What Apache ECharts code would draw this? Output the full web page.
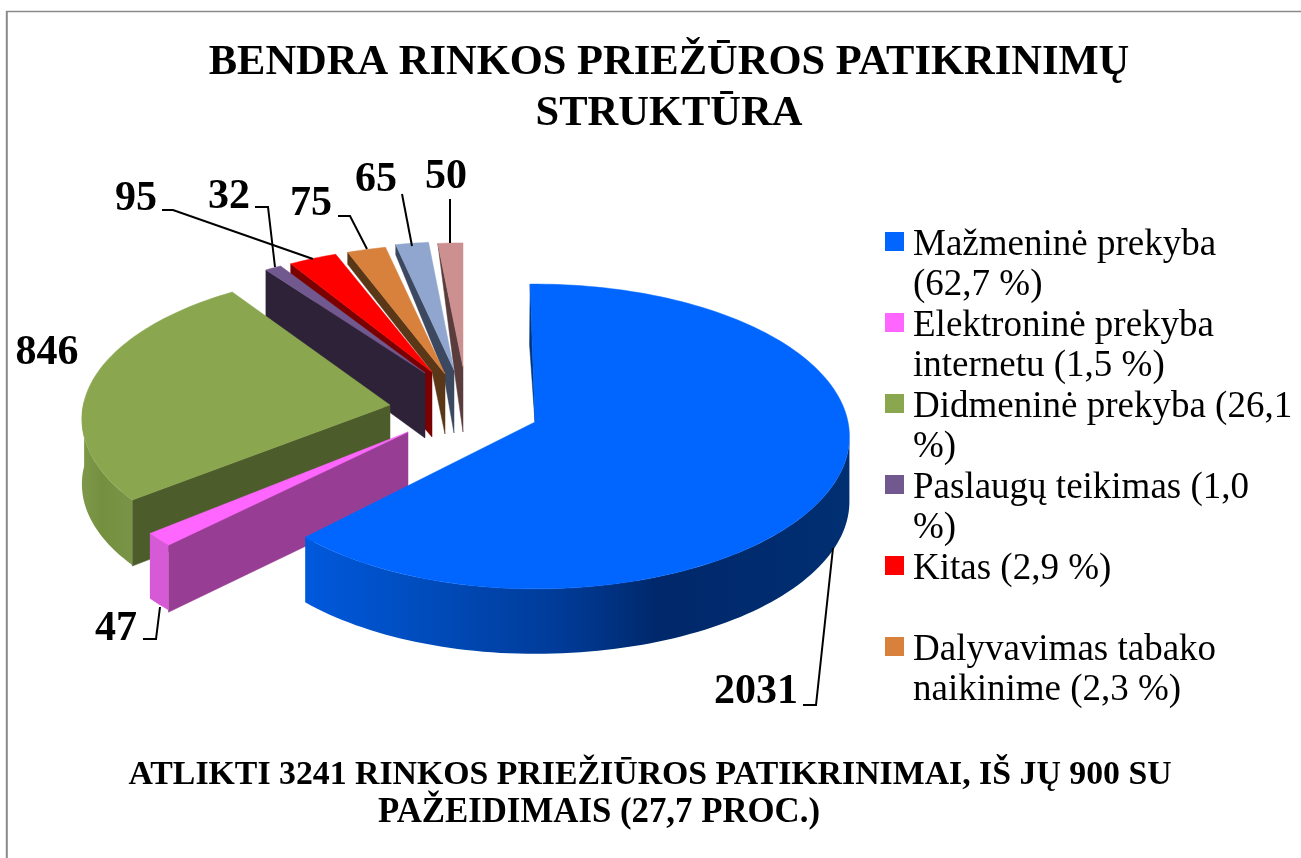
<!DOCTYPE html>
<html>
<head>
<meta charset="utf-8">
<script src="https://cdn.jsdelivr.net/npm/echarts@6/dist/echarts.min.js"></script>
<style>html,body{margin:0;padding:0;background:#fff}#c{width:1301px;height:858px}</style>
</head>
<body>
<div id="c"></div>
<script>
// ---- data ----
const categories = [
  'Mažmeninė prekyba\n(62,7 %)',
  'Elektroninė prekyba\ninternetu (1,5 %)',
  'Didmeninė prekyba (26,1\n%)',
  'Paslaugų teikimas (1,0\n%)',
  'Kitas (2,9 %)\n ',
  'Dalyvavimas tabako\nnaikinime (2,3 %)',
  'Kita 1',
  'Kita 2'
];
const values = [2031, 47, 846, 32, 95, 75, 65, 50];
const legendCount = 6;
const titleText = 'BENDRA RINKOS PRIEŽŪROS PATIKRINIMŲ\nSTRUKTŪRA';
const noteLine1 = 'ATLIKTI 3241 RINKOS PRIEŽIŪROS PATIKRINIMAI, IŠ JŲ 900 SU';
const noteLine2 = 'PAŽEIDIMAIS (27,7 PROC.)';

// ---- styles ----
const topColors = ['#0066ff', '#ff66ff', '#8aa64e', '#71588f', '#ff0000', '#d8813d', '#91a6cf', '#cd9090'];
const wallColors = [null, '#973e94', '#4d5c2b', '#2d2238', '#7b0000', '#5a3717', '#3b4860', '#5a3c3c'];

// ---- 3D projection layout ----
const A = 313, B = 151, K = 0.095, DEPTH = 65;
// exploded apex position, scale, wall depths, rotation, arc wall range per slice
const layout = [
  {ax: 535, ay: 422, sx: 1, sxLeft: 0.975, sy: 1, rot: -1, sliver: 3, arcFrom: 96, arcTo: 270,
   arcStops: [[0, '#0059dc'], [0.25, '#004ab8'], [0.48, '#003a96'], [0.65, '#00286a'], [1, '#002f72']]},
  {ax: 408, ay: 432, sx: 1, sy: 1, rot: 0, outer: 67, inner: 65, arcFrom: 88, arcTo: 270,
   arcStops: [[0, '#d65ad6'], [1, '#d65ad6']]},
  {ax: 390, ay: 405, sx: 0.98, sy: 0.97, rot: 1.5, outer: 66, inner: 62, arcFrom: 88, arcTo: 270,
   arcStops: [[0, '#7e984a'], [0.4, '#73903f'], [1, '#7a9447']]},
  {ax: 425, ay: 373, sx: 0.95, sy: 0.9, rot: 0, outer: 52, inner: 65},
  {ax: 432, ay: 372, sx: 0.93, sy: 0.91, rot: 0, outer: 10, inner: 65},
  {ax: 445, ay: 374, sx: 0.94, sy: 0.94, rot: 0, outer: 12, inner: 60, waist: [0.867, 14]},
  {ax: 454, ay: 370, sx: 0.92, sy: 0.93, rot: 0, outer: 10, inner: 63, waist: [0.81, 24]},
  {ax: 463, ay: 367, sx: 0.91, sy: 0.9, rot: 0, outer: 0, inner: 65, waist: [0.65, 46]}
];
// value label anchors and leader lines per slice
const callouts = [
  {x: 756, y: 692, line: [[803, 705], [816, 705], [833, 548]]},
  {x: 116, y: 629, line: [[143, 639], [156, 639], [160, 607]]},
  {x: 47, y: 353, line: null},
  {x: 229, y: 197, line: [[255, 207], [268, 207], [275, 267]]},
  {x: 136, y: 199, line: [[162, 210], [173, 210], [313, 259]]},
  {x: 311, y: 204, line: [[338, 216], [350, 216], [367, 249]]},
  {x: 376, y: 180, line: [[402, 194], [412, 246]]},
  {x: 446, y: 177, line: [[450, 199], [450, 243]]}
];

const SERIF = '"Liberation Serif", "Times New Roman", serif';
const total = values.reduce((a, b) => a + b, 0);

function project(cfg, deg) {
  const t = (deg + cfg.rot) * Math.PI / 180;
  const s = 1 / (1 + K * Math.cos(t));
  const sn = Math.sin(t);
  const sx = sn < 0 && cfg.sxLeft ? cfg.sxLeft : cfg.sx;
  return [cfg.ax + A * sx * sn * s, cfg.ay - B * cfg.sy * Math.cos(t) * s];
}
function arcPoints(cfg, d1, d2) {
  const pts = [];
  const n = Math.max(2, Math.ceil((d2 - d1) / 1.5));
  for (let i = 0; i <= n; i++) pts.push(project(cfg, d1 + (d2 - d1) * i / n));
  return pts;
}
function poly(points, fill) {
  return {type: 'polygon', shape: {points}, style: {fill, stroke: fill, lineWidth: 0.5}};
}

function makeRenderItem(index) {
  return function (params, api) {
    const value = api.value(0);
    let before = 0;
    for (let i = 0; i < index; i++) before += values[i];
    const d1 = before / total * 360;
    const d2 = d1 + value / total * 360;
    const cfg = layout[index];
    const apex = [cfg.ax, cfg.ay];
    const children = [];
    const outerStart = project(cfg, d1);

    // radial wall along the slice's starting edge
    if (cfg.sliver) {
      const mid = [(outerStart[0] + apex[0]) / 2 - cfg.sliver, (outerStart[1] + apex[1]) / 2 - 8];
      children.push(poly([outerStart, mid, apex], '#00347c'));
    } else {
      const wall = [outerStart, [outerStart[0], outerStart[1] + cfg.outer]];
      if (cfg.waist) {
        const f = cfg.waist[0];
        wall.push([
          outerStart[0] + (apex[0] - outerStart[0]) * f,
          outerStart[1] + (apex[1] - outerStart[1]) * f + cfg.waist[1]
        ]);
      }
      wall.push([apex[0], apex[1] + cfg.inner], apex);
      children.push(poly(wall, wallColors[index]));
    }

    // outer curved wall on the viewer-facing part
    if (cfg.arcStops) {
      const from = Math.max(d1, cfg.arcFrom), to = Math.min(d2, cfg.arcTo);
      if (to > from) {
        const top = arcPoints(cfg, from, to);
        const bottom = top.map(p => [p[0], p[1] + DEPTH]).reverse();
        children.push({
          type: 'polygon',
          shape: {points: top.concat(bottom)},
          style: {
            fill: new echarts.graphic.LinearGradient(0, 0, 1, 0,
              cfg.arcStops.map(s => ({offset: s[0], color: s[1]})))
          }
        });
      }
    }

    // top face
    children.push(poly([apex].concat(arcPoints(cfg, d1, d2)), topColors[index]));

    // leader line and value label
    const call = callouts[index];
    if (call.line) {
      children.push({
        type: 'polyline',
        shape: {points: call.line},
        style: {stroke: '#000', lineWidth: 2, fill: null}
      });
    }
    children.push({
      type: 'text',
      style: {
        text: String(value), x: call.x, y: call.y, align: 'center', verticalAlign: 'middle',
        fontFamily: SERIF, fontWeight: 'bold', fontSize: 42, fill: '#000'
      }
    });
    return {type: 'group', children};
  };
}

const square = 'path://M0 0L0.01 0L0 0.01Z M23 81L22.99 81L23 80.99Z M0 7L19 7L19 26L0 26Z';

const chart = echarts.init(document.getElementById('c'), null, {renderer: 'canvas'});
chart.setOption({
  animation: false,
  backgroundColor: '#ffffff',
  title: [
    {text: titleText, left: 664, top: 33, textAlign: 'center',
     textStyle: {fontFamily: SERIF, fontWeight: 'bold', fontSize: 42.5, lineHeight: 51, color: '#000'}},
    {text: noteLine1, left: 645, top: 751, textAlign: 'center',
     textStyle: {fontFamily: SERIF, fontWeight: 'bold', fontSize: 33.8, lineHeight: 38, color: '#000'}},
    {text: noteLine2, left: 594, top: 789, textAlign: 'center',
     textStyle: {fontFamily: SERIF, fontWeight: 'bold', fontSize: 34.8, lineHeight: 38, color: '#000'}}
  ],
  legend: {
    orient: 'vertical', left: 885, top: 225, padding: 0,
    itemWidth: 23, itemHeight: 81, itemGap: 0,
    icon: square, selectedMode: false,
    data: categories.slice(0, legendCount),
    textStyle: {fontFamily: SERIF, fontSize: 37, lineHeight: 40.5, color: '#000'}
  },
  graphic: [
    {type: 'line', shape: {x1: 6, y1: 11.5, x2: 1301, y2: 11.5}, style: {stroke: '#8a8a8a', lineWidth: 1.5}},
    {type: 'line', shape: {x1: 6.8, y1: 11, x2: 6.8, y2: 858}, style: {stroke: '#8a8a8a', lineWidth: 2}}
  ],
  series: categories.map((name, i) => ({
    type: 'custom',
    name,
    coordinateSystem: 'none',
    z: 10 + (categories.length - i),
    silent: true,
    itemStyle: {color: topColors[i]},
    renderItem: makeRenderItem(i),
    data: [values[i]]
  }))
});
</script>
</body>
</html>
